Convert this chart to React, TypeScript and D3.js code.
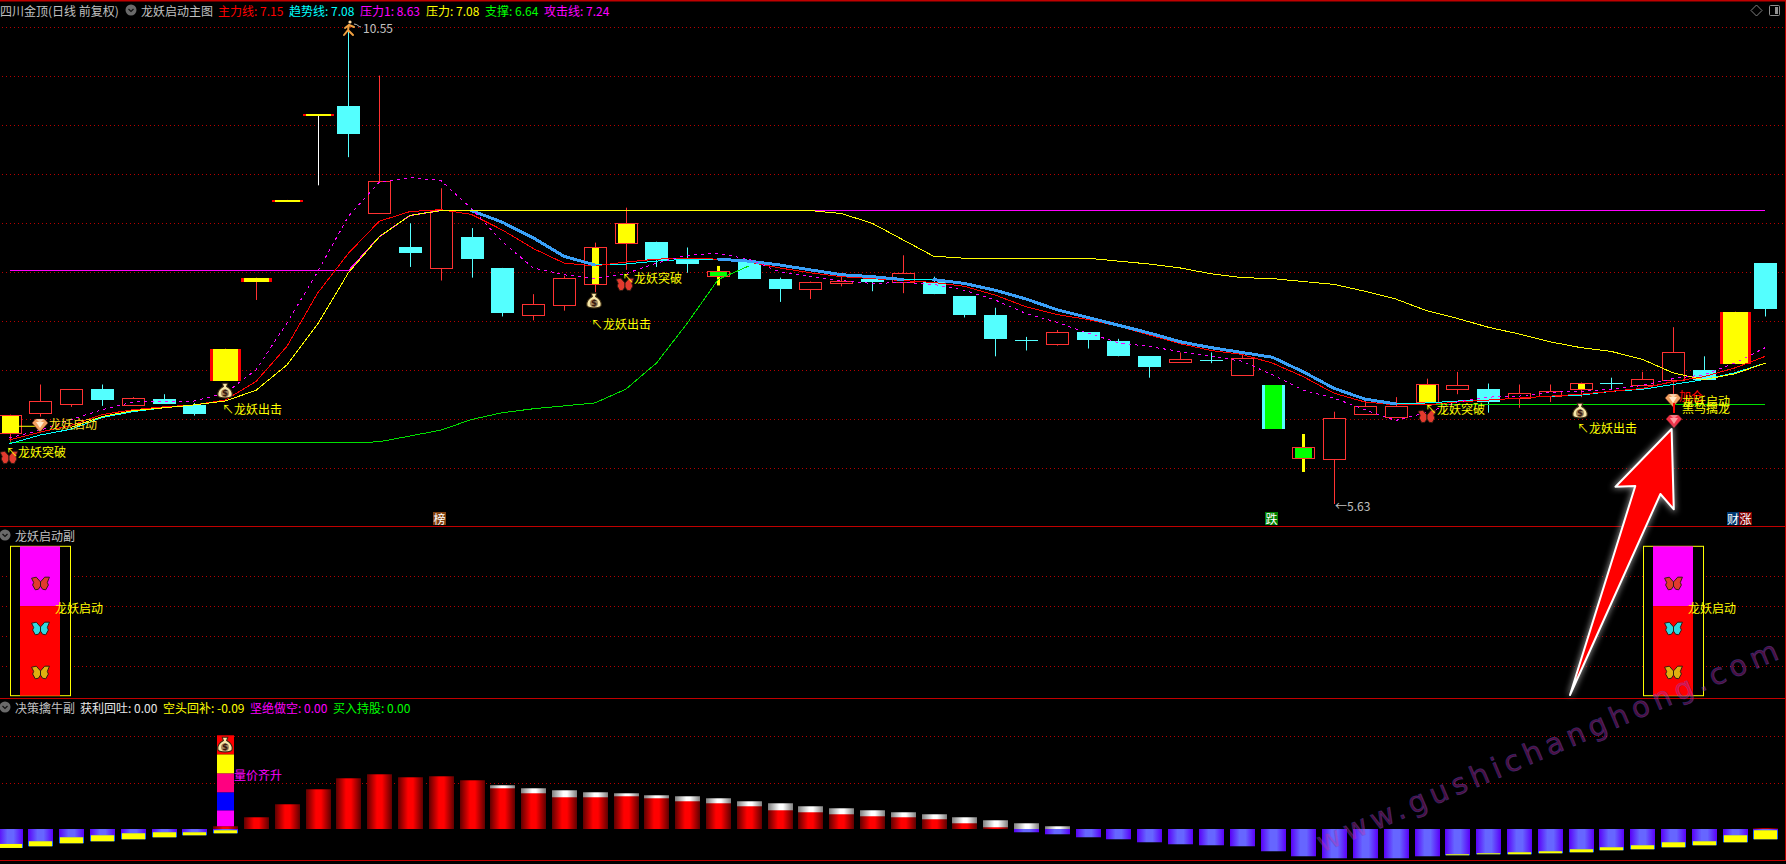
import React from "react";
import * as d3 from "d3";

const WIDTH = 1786, HEIGHT = 864;
const CJK = '"Noto Sans CJK SC", "Noto Sans", sans-serif';

// ---- candles (price) ----
const opens = [6.36,6.57,6.66,6.81,6.65,6.71,6.65,6.90,7.92,8.74,
  9.62,9.73,8.63,8.28,8.06,8.38,8.06,7.58,7.68,7.89,
  8.32,8.33,8.14,7.98,8.12,7.95,7.84,7.90,7.95,7.91,
  7.91,7.77,7.58,7.32,7.28,7.40,7.31,7.15,7.09,7.11,
  6.96,6.85,6.10,6.09,6.56,6.53,6.68,6.81,6.81,6.72,
  6.74,6.81,6.88,6.86,6.91,7.01,7.07,8.11];
const closes = [6.55,6.69,6.81,6.70,6.72,6.66,6.56,7.23,7.96,8.76,
  9.64,9.44,8.95,8.21,8.66,8.15,7.60,7.69,7.96,8.28,
  8.52,8.14,8.10,8.03,7.95,7.84,7.91,7.93,7.92,8.01,
  7.79,7.58,7.33,7.32,7.40,7.32,7.15,7.04,7.12,7.11,
  7.13,6.40,6.22,6.52,6.64,6.64,6.87,6.86,6.68,6.77,
  6.79,6.88,6.88,6.92,7.19,6.91,7.61,7.64];
const highs = [6.55,6.86,6.81,6.86,6.73,6.76,6.67,7.23,7.96,8.76,
  9.64,10.55,10.04,8.52,8.88,8.47,8.06,7.79,7.98,8.32,
  8.68,8.33,8.27,8.08,8.12,7.96,7.92,7.98,7.95,8.19,
  7.97,7.77,7.65,7.35,7.42,7.40,7.33,7.15,7.19,7.19,
  7.17,6.85,6.35,6.58,6.69,6.73,6.92,6.99,6.87,6.86,
  6.86,6.88,6.93,6.99,7.45,7.15,7.61,8.11];
const lows = [6.27,6.53,6.63,6.64,6.64,6.66,6.54,6.90,7.73,8.74,
  8.91,9.20,8.63,8.07,7.93,7.96,7.56,7.52,7.62,7.81,
  8.04,8.07,8.01,7.89,7.95,7.71,7.74,7.87,7.82,7.80,
  7.79,7.55,7.15,7.21,7.26,7.23,7.15,6.93,7.09,7.08,
  6.96,6.40,5.97,5.63,6.56,6.53,6.68,6.76,6.57,6.62,
  6.68,6.73,6.81,6.86,6.63,6.91,7.07,7.56];

const limitBars = [7, 8, 9, 10, 56];
const insetYellowBars = [0, 20, 46];
const centerYellowBars = [19, 51];
const greenBars = [23, 42];
const greenCyanBars = [41];

// ---- overlay lines (price) ----
const mainLine = [6.29,6.37,6.44,6.55,6.60,6.63,6.65,6.70,6.89,7.25,
  7.80,8.21,8.54,8.64,8.66,8.61,8.45,8.26,8.11,8.08,
  8.12,8.15,8.16,8.15,8.12,8.06,8.01,7.97,7.95,7.93,
  7.91,7.87,7.78,7.66,7.58,7.53,7.46,7.37,7.28,7.21,
  7.17,7.08,6.94,6.77,6.68,6.65,6.65,6.68,6.70,6.72,
  6.74,6.76,6.79,6.82,6.89,6.94,7.03,7.15];
const trendLine = [6.25,6.34,6.40,6.52,6.58,6.62,6.65,6.69,6.80,7.06,
  7.48,8.01,8.38,8.60,8.65,8.65,8.53,8.37,8.18,8.09,
  8.10,8.13,8.15,8.15,8.13,8.09,8.04,7.99,7.97,7.94,
  7.94,7.90,7.83,7.74,7.63,7.55,7.47,7.39,7.30,7.24,
  7.19,7.14,6.99,6.82,6.71,6.66,6.67,6.69,6.70,6.72,
  6.74,6.75,6.79,6.81,6.86,6.91,6.98,7.08];
const attackLine = [6.31,6.39,6.50,6.60,6.68,6.69,6.69,6.77,7.01,7.49,
  8.02,8.59,8.94,8.99,8.96,8.67,8.33,8.06,7.99,7.95,
  8.00,8.11,8.19,8.21,8.15,8.02,7.97,7.93,7.90,7.91,
  7.89,7.83,7.73,7.59,7.50,7.39,7.29,7.25,7.20,7.15,
  7.10,6.96,6.80,6.72,6.60,6.49,6.57,6.68,6.73,6.74,
  6.78,6.79,6.81,6.85,6.92,6.96,7.08,7.24];
const pressureLine: (number | null)[] = [null,null,6.42,6.53,6.59,6.62,6.65,6.69,6.80,7.06,
  7.48,8.01,8.38,8.60,8.65,8.65,8.65,8.65,8.65,8.65,
  8.65,8.65,8.65,8.65,8.65,8.65,8.65,8.62,8.52,8.35,
  8.18,8.16,8.16,8.16,8.16,8.16,8.13,8.10,8.06,8.00,
  7.96,7.95,7.92,7.89,7.82,7.74,7.62,7.54,7.45,7.38,
  7.30,7.24,7.20,7.12,6.98,6.91,6.97,7.08];
const pressure1Line = [8.03,8.03,8.03,8.03,8.03,8.03,8.03,8.03,8.03,8.03,
  8.03,8.03,8.38,8.60,8.65,8.65,8.65,8.65,8.65,8.65,
  8.65,8.65,8.65,8.65,8.65,8.65,8.65,8.65,8.65,8.65,
  8.65,8.65,8.65,8.65,8.65,8.65,8.65,8.65,8.65,8.65,
  8.65,8.65,8.65,8.65,8.65,8.65,8.65,8.65,8.65,8.65,
  8.65,8.65,8.65,8.65,8.65,8.65,8.65,8.65];
const supportLine: (number | null)[] = [6.26,6.26,6.26,6.26,6.26,6.26,6.26,6.26,6.26,6.26,
  6.26,6.26,6.27,6.33,6.39,6.50,6.57,6.61,6.64,6.67,
  6.81,7.08,7.49,7.94,8.08,null,null,null,null,null,
  null,null,null,null,null,null,null,null,null,null,
  null,null,null,null,null,6.66,6.65,6.65,6.65,6.65,
  6.65,6.65,6.65,6.65,6.65,6.65,6.65,6.65];

const priceGrid = [10.54,10.04,9.53,9.03,8.52,8.02,7.51,7.01,6.50,6.00];

// ---- legends ----
const mainLegendNames = ["主力线", "趋势线", "压力1", "压力", "支撑", "攻击线"];
const mainLegendValues = ["7.15", "7.08", "8.63", "7.08", "6.64", "7.24"];
const subLegendNames = ["获利回吐", "空头回补", "坚绝做空", "买入持股"];
const subLegendValues = ["0.00", "-0.09", "0.00", "0.00"];

// ---- 龙妖启动副 ----
const startupBars = [1, 54];
const startupLevels = [0, 60, 100];
const startupGrid = [20, 40, 60, 80];

// ---- 决策擒牛副 ----
const redTop = [0,0,0,0,0,0,0,0.027,0.108,0.225,
  0.36,0.459,0.495,0.468,0.477,0.441,0.369,0.324,0.288,0.288,
  0.297,0.279,0.252,0.234,0.207,0.171,0.153,0.135,0.117,0.108,
  0.09,0.054,0.018,0,0,0,0,0,0,0,
  0,0,0,0,0,0,0,0,0,0,
  0,0,0,0,0,0,0,0.009];
const capTop = [0,0,0,0,0,0,0,0,0,0,
  0,0,0,0,0,0,0.396,0.369,0.351,0.333,
  0.324,0.306,0.297,0.279,0.252,0.234,0.207,0.189,0.171,0.153,
  0.135,0.108,0.081,0.054,0.027,0,0,0,0,0,
  0,0,0,0,0,0,0,0,0,0,
  0,0,0,0,0,0,0,0];
const blueBottom = [-0.168,-0.153,-0.126,-0.108,-0.09,-0.072,-0.054,-0.036,0,0,
  0,0,0,0,0,0,0,0,0,0,
  0,0,0,0,0,0,0,0,0,0,
  0,0,0,-0.027,-0.045,-0.072,-0.09,-0.117,-0.135,-0.144,
  -0.153,-0.198,-0.243,-0.261,-0.261,-0.261,-0.243,-0.234,-0.225,-0.225,
  -0.216,-0.207,-0.189,-0.18,-0.162,-0.144,-0.117,-0.09];
const yellowTop: (number | null)[] = [-0.132,-0.108,-0.072,-0.054,-0.036,-0.027,-0.027,-0.009,null,null,
  null,null,null,null,null,null,null,null,null,null,
  null,null,null,null,null,null,null,null,null,null,
  null,null,null,null,null,null,null,null,null,null,
  null,null,null,null,null,null,null,-0.225,-0.216,-0.207,
  -0.198,-0.18,-0.162,-0.144,-0.117,-0.108,-0.054,-0.009];
const towerBar = 7;
const towerLevels = [0.027,0.171,0.333,0.504,0.675,0.846];
const subGrid = [0.42, 0.843];

// ---- scales ----
const x = d3.scaleLinear().domain([0, 57]).range([9.5, 1765.4]);
const yP = d3.scaleLinear().domain([5.63, 10.55]).range([504, 26]);
const yS = d3.scaleLinear().domain([0, 100]).range([695.7, 546.3]);
const yD = d3.scaleLinear().domain([-0.3, 0.9]).range([862.6, 729.3]);

const RED = "#ff3232", CYAN = "#54ffff", YEL = "#ffff00", GRID = "#b80000", PANEL = "#c00000", GRAY = "#c0c0c0";

const priceLine = d3.line<number | null>()
  .defined((d) => d !== null)
  .x((_, i) => x(i))
  .y((d) => yP(d as number));

function Grid({ ys, from = 2 }: { ys: number[]; from?: number }) {
  return (
    <g>
      {ys.map((v, i) => (
        <line key={i} x1={from} x2={1784} y1={Math.round(v) + 0.5} y2={Math.round(v) + 0.5}
          stroke={GRID} strokeDasharray="1 3" />
      ))}
    </g>
  );
}

function Candle({ i }: { i: number }) {
  const X = Math.round(x(i));
  const o = opens[i], c = closes[i];
  const top = Math.round(yP(Math.max(o, c)));
  const bot = Math.round(yP(Math.min(o, c)));
  const hi = yP(highs[i]), lo = yP(lows[i]);
  const up = c >= o;
  const wick = (col: string) => <line x1={X + 0.5} x2={X + 0.5} y1={hi} y2={lo} stroke={col} />;
  const box = (
    <rect x={X - 11 + 0.5} y={top + 0.5} width={22} height={bot - top}
      fill="#000" stroke={RED} />
  );
  if (limitBars.includes(i)) {
    const h = Math.max(bot - top, 2);
    return (
      <g>
        {wick(i === 10 ? "#ffffff" : RED)}
        <rect x={X - 15} y={top} width={31} height={h} fill="#ff0000" />
        <rect x={X - 12} y={top} width={25} height={h} fill={YEL} />
      </g>
    );
  }
  if (insetYellowBars.includes(i)) {
    return (
      <g>
        {wick(RED)}
        {box}
        <rect x={X - 8} y={top + 1} width={17} height={bot - top - 1} fill={YEL} />
      </g>
    );
  }
  if (centerYellowBars.includes(i)) {
    return (
      <g>
        {wick(RED)}
        {box}
        <rect x={X - 3} y={top + 1} width={7} height={bot - top - 1} fill={YEL} />
      </g>
    );
  }
  if (greenBars.includes(i)) {
    return (
      <g>
        <rect x={X - 1} y={hi} width={3} height={lo - hi} fill={YEL} />
        {box}
        <rect x={X - 8} y={top + 1} width={17} height={bot - top - 1} fill="#00ff00" />
        <rect x={X - 1} y={hi} width={3} height={top - hi} fill={YEL} />
        <rect x={X - 1} y={bot + 1} width={3} height={lo - bot} fill={YEL} />
      </g>
    );
  }
  if (greenCyanBars.includes(i)) {
    return (
      <g>
        <rect x={X - 11} y={top} width={23} height={bot - top} fill={CYAN} />
        <rect x={X - 8} y={top} width={17} height={bot - top} fill="#00ff00" />
      </g>
    );
  }
  if (o === c) {
    return (
      <g>
        {wick(CYAN)}
        <line x1={X - 11} x2={X + 12} y1={top + 0.5} y2={top + 0.5} stroke={CYAN} />
      </g>
    );
  }
  if (up) {
    return (
      <g>
        {wick(RED)}
        {box}
      </g>
    );
  }
  return (
    <g>
      {wick(CYAN)}
      <rect x={X - 11} y={top} width={23} height={bot - top} fill={CYAN} />
    </g>
  );
}

function Butterfly({ cx, cy, color }: { cx: number; cy: number; color: string }) {
  return (
    <g transform={`translate(${cx},${cy}) scale(1.05)`} stroke="#2a1a10" strokeWidth={0.9} fill={color} strokeLinejoin="round">
      <path d="M0,-2 L-4,-6.5 L-8.5,-5.5 L-6.5,-1.5 L-7.5,1 L-5,5.5 L-2,5 L0,2 Z" />
      <path d="M0,-2 L4,-6.5 L8.5,-6.5 L6.5,-1.5 L7.5,1 L5,5.5 L2,5 L0,2 Z" />
    </g>
  );
}

function Gem({ cx, cy, main, light }: { cx: number; cy: number; main: string; light: string }) {
  return (
    <g transform={`translate(${cx},${cy})`}>
      <path d="M-8,-2 L-4.5,-6 L4.5,-6 L8,-2 L0,7 Z" fill={main} stroke="#5a1a10" strokeWidth={0.5} />
      <path d="M-4,-3 L4,-3 L0,3 Z" fill={light} />
      <path d="M-4,-6 L-1,-3 L1,-3 L4,-6 Z" fill={light} opacity={0.7} />
    </g>
  );
}

function MoneyBag({ cx, cy }: { cx: number; cy: number }) {
  return (
    <g transform={`translate(${cx},${cy}) scale(1.1)`}>
      <path d="M-2.5,-7 L2.5,-7 L1.5,-4 C5,-2 7,1 6.5,4 C6,7 -6,7 -6.5,4 C-7,1 -5,-2 -1.5,-4 Z"
        fill="#f7e7a8" stroke="#3a2a10" strokeWidth={1} />
      <circle cx={0} cy={2} r={3.6} fill="#a88a60" />
      <text x={0} y={4.6} fontSize={8} fontWeight={700} textAnchor="middle" fill="#3a1a10" fontFamily="DejaVu Sans">$</text>
    </g>
  );
}

function Runner({ cx, cy }: { cx: number; cy: number }) {
  return (
    <g transform={`translate(${cx},${cy})`} stroke="#f0a040" strokeWidth={2} fill="none" strokeLinecap="round">
      <circle cx={1} cy={-7} r={1.6} fill="#ffd9a0" stroke="none" />
      <path d="M0,-4 L-1,1 L-5,6 M-1,1 L4,6 M-4,-1 L0,-4 L5,-2" />
    </g>
  );
}

function T({ x: tx, y, fill = YEL, children, size = 12, anchor = "start" as const }: any) {
  return (
    <text x={tx} y={y} fill={fill} fontSize={size} fontFamily={CJK} dominantBaseline="central" textAnchor={anchor}>
      {children}
    </text>
  );
}

function Chevron({ cx, cy }: { cx: number; cy: number }) {
  return (
    <g>
      <circle cx={cx} cy={cy} r={5.5} fill="#6a6a6a" />
      <path d={`M${cx - 2.5},${cy - 1} L${cx},${cy + 1.5} L${cx + 2.5},${cy - 1}`} fill="none" stroke="#101010" strokeWidth={1.2} />
    </g>
  );
}

function SubBar({ i }: { i: number }) {
  const X = Math.round(x(i));
  const bx = X - 12, bw = 25;
  const y0 = Math.round(yD(0));
  const yT = yellowTop[i];
  return (
    <g>
      {blueBottom[i] < 0 && (
        <rect x={bx} y={y0} width={bw} height={yD(blueBottom[i]) - y0}
          fill={yT !== null ? "#1a66ff" : "url(#blueStripe)"} />
      )}
      {blueBottom[i] < 0 && yT !== null && (
        <rect x={bx} y={y0} width={bw} height={yD(yT) - y0} fill="url(#blueStripe)" />
      )}
      {yT !== null && (
        <rect x={bx + 1} y={yD(yT)} width={bw - 2} height={yD(blueBottom[i]) - yD(yT)} fill={YEL} />
      )}
      {capTop[i] > 0 && (
        <rect x={bx} y={yD(capTop[i])} width={bw} height={y0 - yD(capTop[i])} fill="url(#grayStripe)" />
      )}
      {redTop[i] > 0 && (
        <rect x={bx} y={yD(redTop[i])} width={bw} height={y0 - yD(redTop[i])} fill="url(#redStripe)" />
      )}
    </g>
  );
}

const towerColors = ["#ff00ff", "#0000ff", "#ff0080", "#ffff00", "#ff0000"];

export default function App() {
  const bars = d3.range(opens.length);
  const legendX = [218, 289, 360, 426, 485, 544];
  const legendColors = ["#ff0000", "#00ffff", "#ff00ff", "#ffff00", "#00ff00", "#ff00ff"];
  const subX = [80, 163, 250, 333];
  const subColors = ["#e8e8e8", "#ffff00", "#ff00ff", "#00ff00"];
  const tipLabels: [string, number, number][] = [
    ["↖龙妖突破", 6, 451],
    ["↖龙妖出击", 222, 408],
    ["↖龙妖突破", 622, 277],
    ["↖龙妖出击", 591, 323],
    ["↖龙妖突破", 1425, 408],
    ["↖龙妖出击", 1577, 427],
  ];
  const arrowPath = "M1671.6,429 L1615.5,486.7 L1635.3,486 L1570,695 L1660.4,494 L1673.8,509.3 Z";
  return (
    <svg width={WIDTH} height={HEIGHT} style={{ position: "fixed", left: 0, top: 0, background: "#000", display: "block" }}>
      <defs>
        <linearGradient id="redStripe">
          <stop offset="0" stopColor="#600000" />
          <stop offset="0.4" stopColor="#ff0000" />
          <stop offset="0.6" stopColor="#ff0000" />
          <stop offset="1" stopColor="#600000" />
        </linearGradient>
        <linearGradient id="blueStripe">
          <stop offset="0" stopColor="#5a00f8" />
          <stop offset="0.38" stopColor="#6666ff" />
          <stop offset="0.62" stopColor="#6666ff" />
          <stop offset="1" stopColor="#5a00f8" />
        </linearGradient>
        <linearGradient id="grayStripe">
          <stop offset="0" stopColor="#808080" />
          <stop offset="0.45" stopColor="#ffffff" />
          <stop offset="0.6" stopColor="#ffffff" />
          <stop offset="1" stopColor="#808080" />
        </linearGradient>
        <filter id="glow" x="-20%" y="-20%" width="140%" height="140%">
          <feGaussianBlur stdDeviation="3" />
        </filter>
      </defs>

      {/* panel frame */}
      <line x1={0} x2={WIDTH} y1={0.5} y2={0.5} stroke={PANEL} strokeWidth={2} />
      <line x1={0} x2={WIDTH} y1={526.5} y2={526.5} stroke={PANEL} />
      <line x1={0} x2={WIDTH} y1={698.5} y2={698.5} stroke={PANEL} />
      <line x1={0} x2={WIDTH} y1={860.5} y2={860.5} stroke={PANEL} />
      <line x1={1785.5} x2={1785.5} y1={0} y2={861} stroke={PANEL} />

      {/* grids */}
      <Grid ys={priceGrid.map((p) => yP(p))} />
      <Grid ys={startupGrid.map((p) => yS(p))} />
      <Grid ys={subGrid.map((p) => yD(p))} />

      {/* candles */}
      {bars.map((i) => <Candle key={i} i={i} />)}
      <line x1={x(0) + 9} x2={x(1)} y1={yP(6.43)} y2={yP(6.43)} stroke={YEL} />

      {/* overlay lines */}
      <g shapeRendering="crispEdges">
        <path d={priceLine(supportLine) ?? ""} fill="none" stroke="#00e000" />
        <path d={priceLine(pressure1Line) ?? ""} fill="none" stroke="#ff00ff" strokeWidth={1.3} />
        {bars.slice(0, -1).map((i) => trendLine[i + 1] >= trendLine[i] && (
          <line key={i} x1={x(i)} x2={x(i + 1)} y1={yP(trendLine[i])} y2={yP(trendLine[i + 1])}
            stroke="#00ffff" />
        ))}
        <path d={priceLine(mainLine) ?? ""} fill="none" stroke="#ff0000" />
        {bars.slice(0, -1).map((i) => trendLine[i + 1] < trendLine[i] && (
          <line key={i} x1={x(i)} x2={x(i + 1)} y1={yP(trendLine[i])} y2={yP(trendLine[i + 1])}
            stroke="#3aa0f8" strokeWidth={3} strokeLinecap="round" />
        ))}
        <path d={priceLine(pressureLine) ?? ""} fill="none" stroke="#ffff00" />
        <path d={priceLine(attackLine) ?? ""} fill="none" stroke="#ff00ff" strokeDasharray="3 4" />
      </g>

      {/* annotations */}
      <Runner cx={349} cy={29} />
      <path d="M354,24 C358,24 358,27 361,27" fill="none" stroke={GRAY} />
      <T x={363} y={27} fill={GRAY}>10.55</T>
      <T x={1335} y={505} fill={GRAY}>←5.63</T>

      <Butterfly cx={9} cy={458} color="#e23a2e" />
      <Butterfly cx={625} cy={285} color="#e23a2e" />
      <Butterfly cx={1427} cy={417} color="#e23a2e" />
      <Gem cx={40} cy={425} main="#f0a060" light="#ffe8c8" />
      <Gem cx={1673} cy={400} main="#f0a060" light="#ffe8c8" />
      <Gem cx={1674} cy={421} main="#f03048" light="#ff9aa0" />
      <MoneyBag cx={225} cy={391} />
      <MoneyBag cx={594} cy={301} />
      <MoneyBag cx={1580} cy={411} />

      <T x={49} y={423} fill="#ffe020">龙妖启动</T>
      {tipLabels.map(([txt, tx, ty], i) => <T key={i} x={tx} y={ty}>{txt}</T>)}
      <T x={1679} y={395} fill="#ff0000">加仓</T>
      <rect x={1673} y={403} width={2} height={10} fill="#ff0000" />
      <T x={1682} y={400}>龙妖启动</T>
      <T x={1682} y={407}>黑马擒龙</T>

      {/* signal tags */}
      <rect x={433} y={512} width={13} height={13} fill="#804010" />
      <T x={439.5} y={518.5} fill="#fff" anchor="middle">榜</T>
      <rect x={1265} y={512} width={13} height={13} fill="#008000" />
      <T x={1271.5} y={518.5} fill="#fff" anchor="middle">跌</T>
      <rect x={1727} y={512} width={12} height={13} fill="#003870" />
      <T x={1733} y={518.5} fill="#fff" anchor="middle">财</T>
      <rect x={1739} y={512} width={13} height={13} fill="#800000" />
      <T x={1745.5} y={518.5} fill="#fff" anchor="middle">涨</T>

      {/* startup panel */}
      {startupBars.map((b) => {
        const X = Math.round(x(b));
        return (
          <g key={b}>
            <rect x={X - 30 + 0.5} y={yS(100)} width={60} height={yS(0) - yS(100)} fill="#000" stroke={YEL} />
            <rect x={X - 20} y={yS(startupLevels[2])} width={40} height={yS(startupLevels[1]) - yS(startupLevels[2])} fill="#ff00ff" />
            <rect x={X - 20} y={yS(startupLevels[1])} width={40} height={yS(startupLevels[0]) - yS(startupLevels[1])} fill="#ff0000" />
            <Butterfly cx={X + 0.5} cy={584} color="#e23a2e" />
            <Butterfly cx={X + 0.5} cy={629} color="#30d8e0" />
            <Butterfly cx={X + 0.5} cy={673} color="#e0b010" />
            <T x={X + 15} y={607}>龙妖启动</T>
          </g>
        );
      })}

      {/* decision panel */}
      {bars.map((i) => <SubBar key={i} i={i} />)}
      {towerColors.map((c, k) => (
        <rect key={k} x={Math.round(x(towerBar)) - 8} y={yD(towerLevels[k + 1])} width={17}
          height={yD(towerLevels[k]) - yD(towerLevels[k + 1])} fill={c} />
      ))}
      <MoneyBag cx={225} cy={745} />
      <T x={234} y={774} fill="#ff00ff">量价齐升</T>

      {/* headers */}
      <T x={0} y={10} fill={GRAY}>四川金顶(日线 前复权)</T>
      <Chevron cx={131} cy={10} />
      <T x={141} y={10} fill={GRAY}>龙妖启动主图</T>
      {mainLegendNames.map((n, i) => (
        <T key={n} x={legendX[i]} y={10} fill={legendColors[i]}>{`${n}: ${mainLegendValues[i]}`}</T>
      ))}
      <Chevron cx={5} cy={535} />
      <T x={15} y={535} fill={GRAY}>龙妖启动副</T>
      <Chevron cx={5} cy={707} />
      <T x={15} y={707} fill={GRAY}>决策擒牛副</T>
      {subLegendNames.map((n, i) => (
        <T key={n} x={subX[i]} y={707} fill={subColors[i]}>{`${n}: ${subLegendValues[i]}`}</T>
      ))}

      {/* window controls */}
      <path d="M1756.5,5 L1762,10.5 L1756.5,16 L1751,10.5 Z" fill="none" stroke="#808080" />
      <rect x={1769.5} y={5.5} width={10} height={10} rx={1} fill="none" stroke="#909090" />
      <rect x={1775} y={7} width={3} height={7} fill="#909090" />

      {/* big arrow */}
      <path d={arrowPath} fill="#808080" stroke="#a0a0a0" strokeWidth={3} filter="url(#glow)" />
      <path d={arrowPath} fill="#ff0000" stroke="#ffffff" strokeWidth={2} strokeLinejoin="round" />

      {/* watermark */}
      <text x={0} y={0} transform="translate(1322,853) rotate(-23)" fontFamily="DejaVu Sans" fontSize={29}
        textLength={498} lengthAdjust="spacing" fill="#d02aa0" fillOpacity={0.38} stroke="#5050d0" strokeOpacity={0.4} strokeWidth={0.8}>
        www.gushichanghong.com
      </text>
    </svg>
  );
}
